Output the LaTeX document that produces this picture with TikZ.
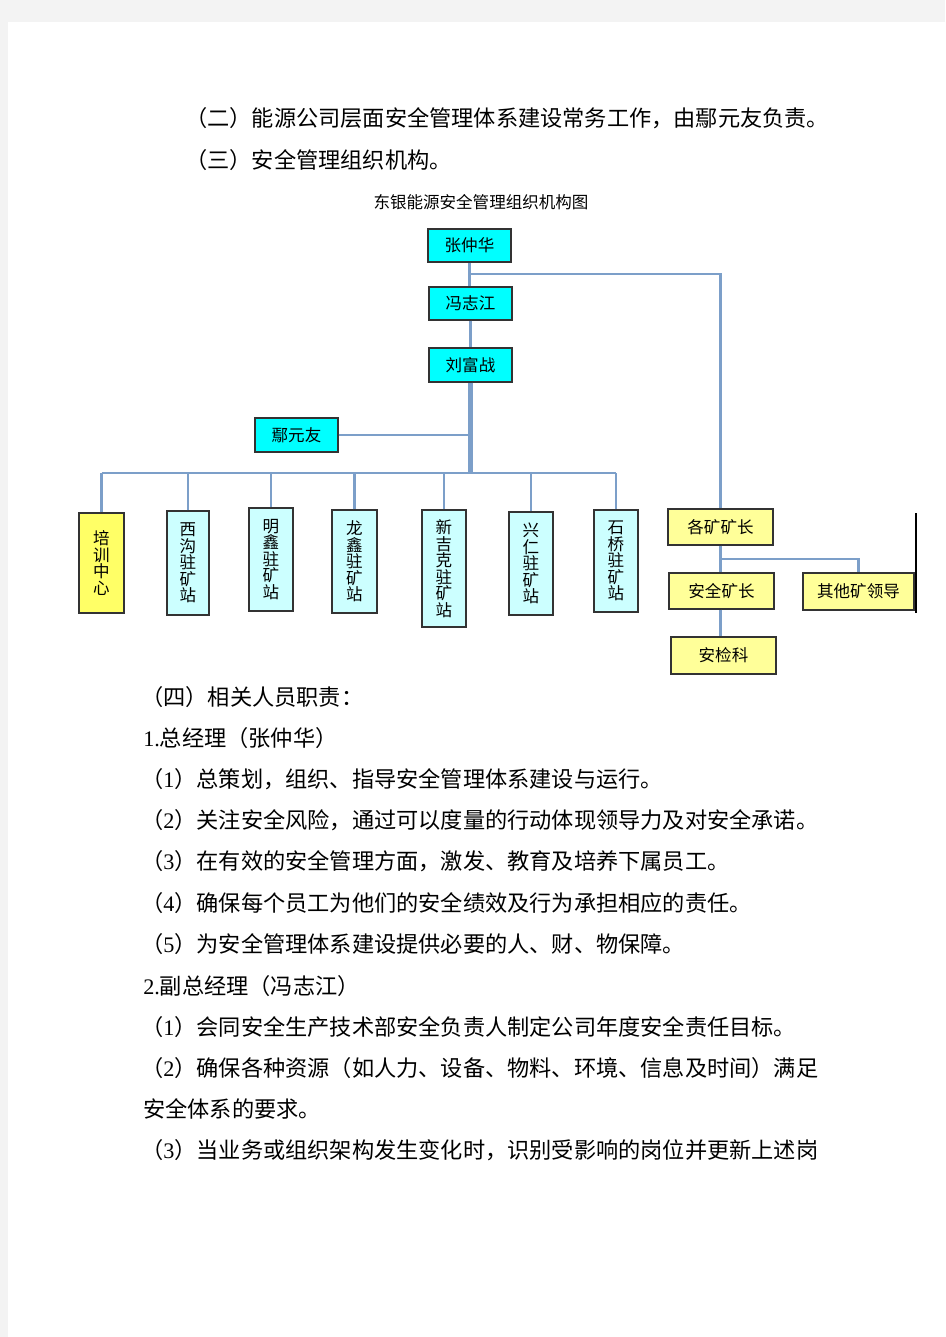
\documentclass[tikz,border=0pt]{standalone}
\usepackage{fontspec}
\setmainfont{Liberation Serif}
\newfontfamily\cjk{Noto Sans CJK SC}
\definecolor{conn}{HTML}{7C9FC9}
\definecolor{cyanbox}{HTML}{00FFFF}
\definecolor{lcyan}{HTML}{CCFFFF}
\definecolor{ybox}{HTML}{FFFF66}
\definecolor{lybox}{HTML}{FFFF99}
\definecolor{pagegray}{HTML}{F3F3F3}
\newcommand\dg[1]{{\rmfamily #1}}
\begin{document}
\begin{tikzpicture}[x=0.75pt,y=-0.75pt,
  box/.style={draw=black!80, line width=0.9pt, inner sep=0pt, font=\cjk\fontsize{12.4}{12.6}\selectfont},
  vbox/.style={box, align=center, font=\cjk\fontsize{12.4}{12.4}\selectfont},
  sz/.style 2 args={minimum width=#1*0.75pt, minimum height=#2*0.75pt},
  link/.style={draw=conn, line width=2.2pt},
  trunk/.style={draw=conn, line width=3.6pt},
  body/.style={anchor=west, inner sep=0pt, font=\cjk\fontsize{16.65}{18}\selectfont},
  ctitle/.style={inner sep=0pt, font=\cjk\fontsize{12.4}{14}\selectfont}]
\useasboundingbox (0,0) rectangle (945,1337);
\fill[pagegray] (0,0) rectangle (945,1337);
\fill[white] (8,22) rectangle (945,1337);

% body text
\node[body] (t1) at (185,118) {（二）能源公司层面安全管理体系建设常务工作，由鄢元友负责。};
\node[body] (t2) at (185,160) {（三）安全管理组织机构。};
\node[body] (t3) at (141,697) {（四）相关人员职责：};
\node[body] (t4) at (143,738) {\dg{1.}总经理（张仲华）};
\node[body] (t5) at (141,779) {（\dg{1}）总策划，组织、指导安全管理体系建设与运行。};
\node[body] (t6) at (141,820) {（\dg{2}）关注安全风险，通过可以度量的行动体现领导力及对安全承诺。};
\node[body] (t7) at (141,861) {（\dg{3}）在有效的安全管理方面，激发、教育及培养下属员工。};
\node[body] (t8) at (141,903) {（\dg{4}）确保每个员工为他们的安全绩效及行为承担相应的责任。};
\node[body] (t9) at (141,944) {（\dg{5}）为安全管理体系建设提供必要的人、财、物保障。};
\node[body] (t10) at (143,986) {\dg{2.}副总经理（冯志江）};
\node[body] (t11) at (141,1027) {（\dg{1}）会同安全生产技术部安全负责人制定公司年度安全责任目标。};
\node[body] (t12) at (141,1068) {（\dg{2}）确保各种资源（如人力、设备、物料、环境、信息及时间）满足};
\node[body] (t13) at (143,1109) {安全体系的要求。};
\node[body] (t14) at (141,1150) {（\dg{3}）当业务或组织架构发生变化时，识别受影响的岗位并更新上述岗};

% chart title
\node[ctitle] (ct) at (481,202) {东银能源安全管理组织机构图};

% top chain
\node[box, fill=cyanbox, sz={83}{33}] (zhang) at (469.5,245.5) {张仲华};
\node[box, fill=cyanbox, sz={83}{33}] (feng) at (470.5,303.5) {冯志江};
\node[box, fill=cyanbox, sz={83}{34}] (liu) at (470.5,365) {刘富战};
\node[box, fill=cyanbox, sz={83}{34}] (yan) at (296.5,435) {鄢元友};

% stations
\node[vbox, fill=ybox, sz={45}{100}] (train) at (101.5,563) {培\\训\\中\\心};
\node[vbox, fill=lcyan, sz={42}{104}] (xigou) at (188,563) {西\\沟\\驻\\矿\\站};
\node[vbox, fill=lcyan, sz={44}{103}] (mingxin) at (271,559.5) {明\\鑫\\驻\\矿\\站};
\node[vbox, fill=lcyan, sz={45}{103}] (longxin) at (354.5,561.5) {龙\\鑫\\驻\\矿\\站};
\node[vbox, fill=lcyan, sz={44}{117}] (xinjike) at (444,568.5) {新\\吉\\克\\驻\\矿\\站};
\node[vbox, fill=lcyan, sz={44}{103}] (xingren) at (531,563.5) {兴\\仁\\驻\\矿\\站};
\node[vbox, fill=lcyan, sz={44}{102}] (shiqiao) at (616,561) {石\\桥\\驻\\矿\\站};

% right side
\node[box, fill=lybox, sz={105}{36}] (gekz) at (720.5,527) {各矿矿长};
\node[box, fill=lybox, sz={105}{36}] (anqkz) at (721.5,591) {安全矿长};
\node[box, fill=lybox, sz={105}{37}] (ajk) at (723.5,655.5) {安检科};
\node[box, fill=lybox, sz={111}{37}] (qita) at (858.5,591.5) {其他矿领导};

% connectors
\coordinate (j1) at (470,274);
\coordinate (bus) at (470,473);
\coordinate (j2) at (720,559);
\coordinate (b1) at (916,513);
\coordinate (b2) at (916,613);

\draw[link] (zhang.south) -- (zhang.south |- feng.north);
\draw[link] (feng.south) -- (liu.north);
\draw[link] (zhang.south |- j1) -| (gekz.north);
\draw[trunk] (liu.south) -- (liu.south |- bus);
\draw[link] (yan.east) -- (yan.east -| liu.south);
\draw[link] (train.north |- bus) -- (shiqiao.north |- bus);
\foreach \n in {train,xigou,mingxin,longxin,xinjike,xingren,shiqiao}
  \draw[link] (\n.north) -- (\n.north |- bus);
\draw[link] (gekz.south) -- (gekz.south |- anqkz.north);
\draw[link] (gekz.south |- anqkz.south) -- (gekz.south |- ajk.north);
\draw[link] (gekz.south |- j2) -| (qita.north);
\draw[black, line width=1.1pt] (b1) -- (b2);
\end{tikzpicture}
\end{document}
